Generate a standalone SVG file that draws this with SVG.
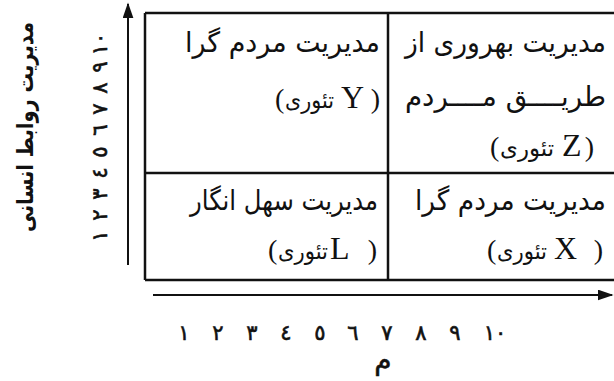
<svg xmlns="http://www.w3.org/2000/svg" width="614" height="381" viewBox="0 0 614 381">
<style>
text{direction:ltr;unicode-bidi:embed}
.fa{font-family:"DejaVu Sans",sans-serif;font-size:28px;fill:#111;text-anchor:end}
.w{font-family:"DejaVu Sans",sans-serif;font-size:23px;fill:#111;text-anchor:start}
.lat{font-family:"Liberation Serif",serif;font-size:32px;fill:#111;text-anchor:start}
.po{font-family:"Liberation Serif",serif;font-size:28px;fill:#111;text-anchor:start}
.pc{font-family:"Liberation Serif",serif;font-size:28px;fill:#111;text-anchor:end}
.num{font-family:"DejaVu Sans",sans-serif;font-size:21px;fill:#111;stroke:#111;stroke-width:0.6;text-anchor:middle}
.ln{stroke:#111;stroke-width:2.5;fill:none}
.ax{stroke:#111;stroke-width:2;fill:none}
</style>
<defs>
<marker id="ah" viewBox="0 0 10 10" refX="9" refY="5" markerWidth="16" markerHeight="11" markerUnits="userSpaceOnUse" orient="auto" preserveAspectRatio="none">
<path d="M0,0 L10,5 L0,10 z" fill="#111"/>
</marker>
</defs>
<rect width="614" height="381" fill="#fff"/>
<g id="connectors">
<line class="ax" x1="128" y1="265" x2="128" y2="4" marker-end="url(#ah)"/>
<line class="ax" x1="153" y1="295" x2="612" y2="295" marker-end="url(#ah)"/>
</g>
<g id="grid">
<path class="ln" d="M145,13 H620 M145,13 V280 M145,280 H620 M145,173 H620 M388,13 V280"/>
</g>
<g id="y-axis-label">
<text transform="translate(33,127) rotate(-90)" style="font-family:'DejaVu Sans',sans-serif;font-size:23px;font-weight:bold;fill:#111" text-anchor="middle" textLength="210" lengthAdjust="spacingAndGlyphs">مدیریت روابط انسانی</text>
</g>
<g id="y-axis-numbers">
<text class="num" transform="translate(107,236) rotate(-90)">١</text>
<text class="num" transform="translate(107,215) rotate(-90)">٢</text>
<text class="num" transform="translate(107,194) rotate(-90)">٣</text>
<text class="num" transform="translate(107,173) rotate(-90)">٤</text>
<text class="num" transform="translate(107,152) rotate(-90)">٥</text>
<text class="num" transform="translate(107,130) rotate(-90)">٦</text>
<text class="num" transform="translate(107,109) rotate(-90)">٧</text>
<text class="num" transform="translate(107,88) rotate(-90)">٨</text>
<text class="num" transform="translate(107,67) rotate(-90)">٩</text>
<text class="num" transform="translate(107,44) rotate(-90)">١٠</text>
</g>
<g id="x-axis-numbers">
<text class="num" x="184" y="340">١</text>
<text class="num" x="218" y="340">٢</text>
<text class="num" x="252" y="340">٣</text>
<text class="num" x="286" y="340">٤</text>
<text class="num" x="320" y="340">٥</text>
<text class="num" x="353" y="340">٦</text>
<text class="num" x="387" y="340">٧</text>
<text class="num" x="421" y="340">٨</text>
<text class="num" x="455" y="340">٩</text>
<text class="num" x="495" y="340">١٠</text>
</g>
<g id="x-axis-label">
<text x="383" y="369" style="font-family:'DejaVu Sans',sans-serif;font-size:28px;fill:#111;stroke:#111;stroke-width:0.5" text-anchor="middle">م</text>
</g>
<g id="cell-y">
<text class="fa" x="380" y="52" textLength="195" lengthAdjust="spacingAndGlyphs">مدیریت مردم گرا</text>
<text class="po" x="275" y="108">(</text>
<text class="w" x="285" y="108" textLength="49" lengthAdjust="spacingAndGlyphs">تئوری</text>
<text class="lat" x="341" y="108">Y</text>
<text class="pc" x="380" y="108">)</text>
</g>
<g id="cell-z">
<text class="fa" x="606" y="52" textLength="201" lengthAdjust="spacingAndGlyphs">مدیریت بهروری از</text>
<text class="fa" x="606" y="106" textLength="201" lengthAdjust="spacingAndGlyphs">طریــــق مــــردم</text>
<text class="po" x="490" y="156">(</text>
<text class="w" x="500" y="156" textLength="54" lengthAdjust="spacingAndGlyphs">تئوری</text>
<text class="lat" x="562" y="156">Z</text>
<text class="pc" x="594" y="156">)</text>
</g>
<g id="cell-l">
<text class="fa" x="378" y="210" textLength="188" lengthAdjust="spacingAndGlyphs">مدیریت سهل انگار</text>
<text class="po" x="268" y="259">(</text>
<text class="w" x="278" y="259" textLength="50" lengthAdjust="spacingAndGlyphs">تئوری</text>
<text class="lat" x="330" y="259">L</text>
<text class="pc" x="377" y="259">)</text>
</g>
<g id="cell-x">
<text class="fa" x="606" y="210" textLength="191" lengthAdjust="spacingAndGlyphs">مدیریت مردم گرا</text>
<text class="po" x="487" y="259">(</text>
<text class="w" x="497" y="259" textLength="50" lengthAdjust="spacingAndGlyphs">تئوری</text>
<text class="lat" x="554" y="259">X</text>
<text class="pc" x="603" y="259">)</text>
</g>
</svg>
